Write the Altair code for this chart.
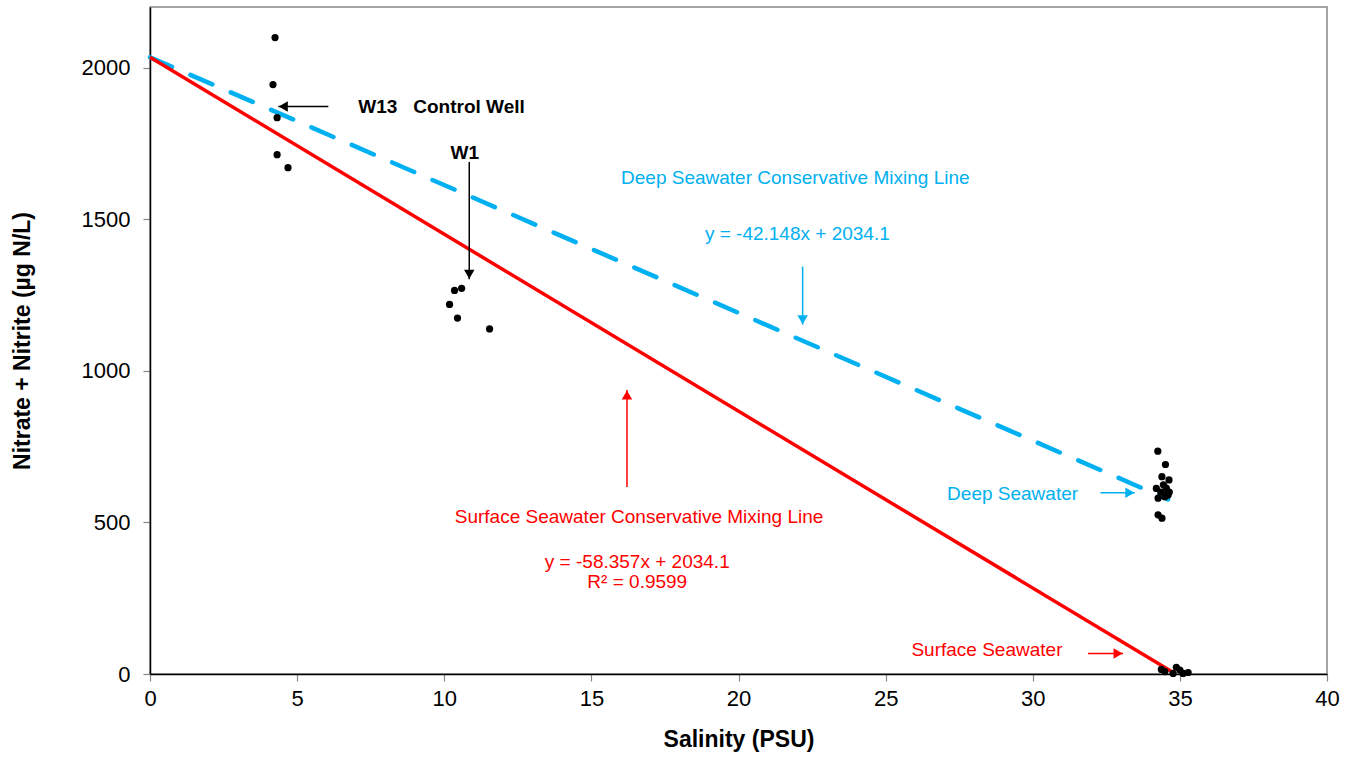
import altair as alt
import pandas as pd

# ---------------- data ----------------
w13_x = [4.25, 4.18, 4.32, 4.32, 4.69]
w13_y = [2099, 1944, 1835, 1713, 1670]

w1_x = [10.35, 10.59, 10.18, 10.45, 11.54]
w1_y = [1265, 1272, 1219, 1174, 1138]

deep_x = [34.25, 34.51, 34.39, 34.63, 34.44, 34.20, 34.54, 34.64, 34.26, 34.49, 34.26, 34.39, 34.58, 34.35, 34.60]
deep_y = [735, 691, 651, 640, 624, 612, 613, 600, 580, 585, 525, 514, 595, 600, 590]

surf_x = [34.37, 34.49, 34.88, 35.00, 35.28, 35.11, 34.77]
surf_y = [15, 8, 22, 13, 5, 2, 2]

# mixing lines (end points)
red_x = [0, 34.86]
red_y = [2034.1, 0]
blue_x = [0, 34.6]
blue_y = [2034.1, 575.8]

x_ticks = [0, 5, 10, 15, 20, 25, 30, 35, 40]
y_ticks = [0, 500, 1000, 1500, 2000]

RED = "#FF0000"
BLUE = "#00B0F0"
FONT = "Liberation Sans"
NB = "\u00a0"

# annotations: text, x, y, align, color, bold
ann_text = ["W13" + NB * 3 + "Control Well", "W1",
            "Deep Seawater Conservative Mixing Line", "y = -42.148x + 2034.1",
            "Deep Seawater",
            "Surface Seawater Conservative Mixing Line", "y = -58.357x + 2034.1", "R² = 0.9599",
            "Surface Seawater"]
ann_x = [7.08, 10.70, 21.93, 22.0, 31.54, 16.62, 16.56, 16.56, 31.01]
ann_y = [1870, 1720, 1636, 1452, 594, 519, 369, 305, 79]
ann_align = ["left", "center", "center", "center", "right", "center", "center", "center", "right"]
ann_color = ["black", "black", BLUE, BLUE, BLUE, RED, RED, RED, RED]
ann_bold = [True, True, False, False, False, False, False, False, False]

# arrows: start x, start y, tip x, tip y, direction, color
arr_x = [6.06, 10.85, 22.18, 32.30, 16.21, 31.88]
arr_y = [1872, 1689, 1344, 598, 617, 68]
arr_x2 = [4.36, 10.85, 22.18, 33.47, 16.21, 33.07]
arr_y2 = [1872, 1302, 1152, 598, 937, 68]
arr_dir = ["left", "down", "down", "right", "up", "right"]
arr_color = ["black", "black", BLUE, BLUE, RED, RED]

# ---------------- chart ----------------
xs = alt.Scale(domain=[0, 40], nice=False, zero=False)
ys = alt.Scale(domain=[0, 2200], nice=False, zero=False)
x_axis = alt.Axis(values=x_ticks, title="Salinity (PSU)", grid=False, format="d",
                  labelPadding=7, titlePadding=19, tickSize=7, labelFlush=False)
y_axis = alt.Axis(values=y_ticks, title="Nitrate + Nitrite (µg N/L)", grid=False, format="d",
                  labelPadding=13, titlePadding=47, tickSize=7, labelFlush=False)


def X(f="x"):
    return alt.X(f"{f}:Q", scale=xs, axis=x_axis)


def Y(f="y"):
    return alt.Y(f"{f}:Q", scale=ys, axis=y_axis)


pts = pd.DataFrame({
    "x": w13_x + w1_x + deep_x + surf_x,
    "y": w13_y + w1_y + deep_y + surf_y,
})

points = alt.Chart(pts).mark_circle(size=52, color="black", opacity=1).encode(x=X(), y=Y())

red_line = alt.Chart(pd.DataFrame({"x": red_x, "y": red_y})).mark_line(
    color=RED, strokeWidth=3.5).encode(x=X(), y=Y())

blue_line = alt.Chart(pd.DataFrame({"x": blue_x, "y": blue_y})).mark_line(
    color=BLUE, strokeWidth=4.5, strokeDash=[24, 20], strokeCap="round").encode(x=X(), y=Y())

layers = [blue_line, red_line]

# arrows
arr = pd.DataFrame({"x": arr_x, "y": arr_y, "x2": arr_x2, "y2": arr_y2,
                    "dir": arr_dir, "c": arr_color})
rules = alt.Chart(arr).mark_rule(strokeWidth=1.5).encode(
    x=X(), y=Y(), x2="x2:Q", y2="y2:Q",
    color=alt.Color("c:N", scale=None))
layers.append(rules)

offsets = {"left": (5, 0), "right": (-5, 0), "down": (0, -5), "up": (0, 5)}
for d, (ox, oy) in offsets.items():
    sub = arr[arr["dir"] == d]
    if len(sub) == 0:
        continue
    head = alt.Chart(sub).mark_point(shape=f"triangle-{d}", filled=True, size=110, opacity=1,
                                     xOffset=ox, yOffset=oy, strokeWidth=0).encode(
        x=X("x2"), y=Y("y2"),
        color=alt.Color("c:N", scale=None))
    layers.append(head)

# texts
for t, xx, yy, al, col, b in zip(ann_text, ann_x, ann_y, ann_align, ann_color, ann_bold):
    tl = alt.Chart(pd.DataFrame({"x": [xx], "y": [yy], "t": [t]})).mark_text(
        align=al, baseline="middle", font=FONT, fontSize=19,
        fontWeight="bold" if b else "normal", color=col).encode(
        x=X(), y=Y(), text="t:N")
    layers.append(tl)

layers.append(points)

chart = alt.layer(*layers).properties(
    width=1177, height=667,
    padding={"left": 150, "top": 7, "right": 29, "bottom": 83},
    autosize=alt.AutoSizeParams(type="none"),
    background="white",
).configure_view(
    stroke="#888888", strokeWidth=1.5
).configure_axis(
    domainColor="black", domainWidth=1.5,
    tickColor="#888888", tickWidth=1.2,
    labelFont=FONT, labelFontSize=22, labelColor="black",
    titleFont=FONT, titleFontSize=23, titleFontWeight="bold", titleColor="black",
)

chart.save("out.html", embed_options={"renderer": "svg", "actions": False})
